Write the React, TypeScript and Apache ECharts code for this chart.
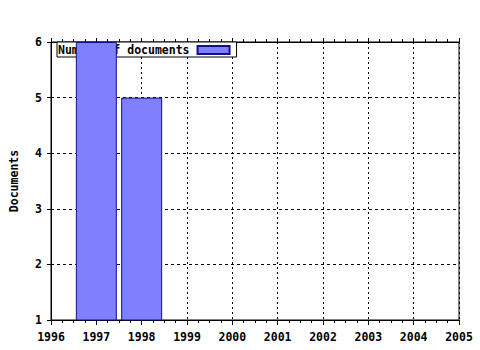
import React, { useEffect, useRef } from "react";
import * as echarts from "echarts";

const years = [1997, 1998];
const documents = [6, 5];
const seriesName = "Number of documents";
const xMin = 1996;
const xMax = 2005;
const yMin = 1;
const yMax = 6;

const FONT = "DejaVu Sans Mono";

export default function App() {
  const ref = useRef<HTMLDivElement>(null);
  useEffect(() => {
    if (!ref.current) return;
    const chart = echarts.init(ref.current, undefined, { renderer: "svg" });
    const labelStyle = { color: "#000", fontFamily: FONT, fontWeight: "bold" as const, fontSize: 11.5 };
    chart.setOption({
      animation: false,
      backgroundColor: "#fff",
      grid: {
        left: 51,
        right: 21,
        top: 42,
        bottom: 30,
        show: true,
        borderColor: "#000",
        borderWidth: 1,
        backgroundColor: "transparent",
      },
      legend: {
        show: true,
        left: 57,
        top: 42,
        z: 1,
        orient: "horizontal",
        align: "right",
        padding: [2, 6, 1, 1],
        itemWidth: 32,
        itemHeight: 8,
        backgroundColor: "#fff",
        borderColor: "#000",
        borderWidth: 1,
        borderRadius: 0,
        icon: "rect",
        textStyle: { ...labelStyle, padding: [0, 3, 0, 0] },
        data: [seriesName],
      },
      xAxis: [
        {
          type: "value",
          min: xMin,
          max: xMax,
          interval: 1,
          axisLine: { show: true, onZero: false, lineStyle: { color: "#000", width: 1 } },
          axisTick: { show: true, length: 5, lineStyle: { color: "#000" } },
          minorTick: { show: true, splitNumber: 4, length: 3, lineStyle: { color: "#000" } },
          axisLabel: { ...labelStyle, margin: 11, formatter: (v: number) => String(v) },
          splitLine: { show: true, lineStyle: { color: "#000", type: [2, 3], width: 1 } },
        },
        {
          type: "value",
          position: "top",
          min: xMin,
          max: xMax,
          interval: 1,
          axisLine: { show: true, onZero: false, lineStyle: { color: "#000", width: 1 } },
          axisTick: { show: true, length: 4, lineStyle: { color: "#000" } },
          minorTick: { show: true, splitNumber: 4, length: 3, lineStyle: { color: "#000" } },
          axisLabel: { show: false },
          splitLine: { show: false },
        },
      ],
      yAxis: {
        type: "value",
        min: yMin,
        max: yMax,
        interval: 1,
        name: "Documents",
        nameLocation: "middle",
        nameRotate: 90,
        nameGap: 31,
        nameTextStyle: { ...labelStyle },
        axisLine: { show: true, onZero: false, lineStyle: { color: "#000", width: 1 } },
        axisTick: { show: true, length: 4, lineStyle: { color: "#000" } },
        axisLabel: { ...labelStyle, margin: 9 },
        splitLine: { show: true, lineStyle: { color: "#000", type: [3, 3], width: 1 } },
      },
      series: [
        {
          name: seriesName,
          type: "bar",
          xAxisIndex: 0,
          z: 3,
          clip: true,
          barWidth: 41,
          data: years.map((y, i) => [y, documents[i]]),
          itemStyle: { color: "#8080ff", borderColor: "#10108c", borderWidth: 1 },
        },
      ],
    });
    return () => chart.dispose();
  }, []);
  return <div ref={ref} style={{ width: 480, height: 350, position: "absolute", left: 0, top: 0 }} />;
}
